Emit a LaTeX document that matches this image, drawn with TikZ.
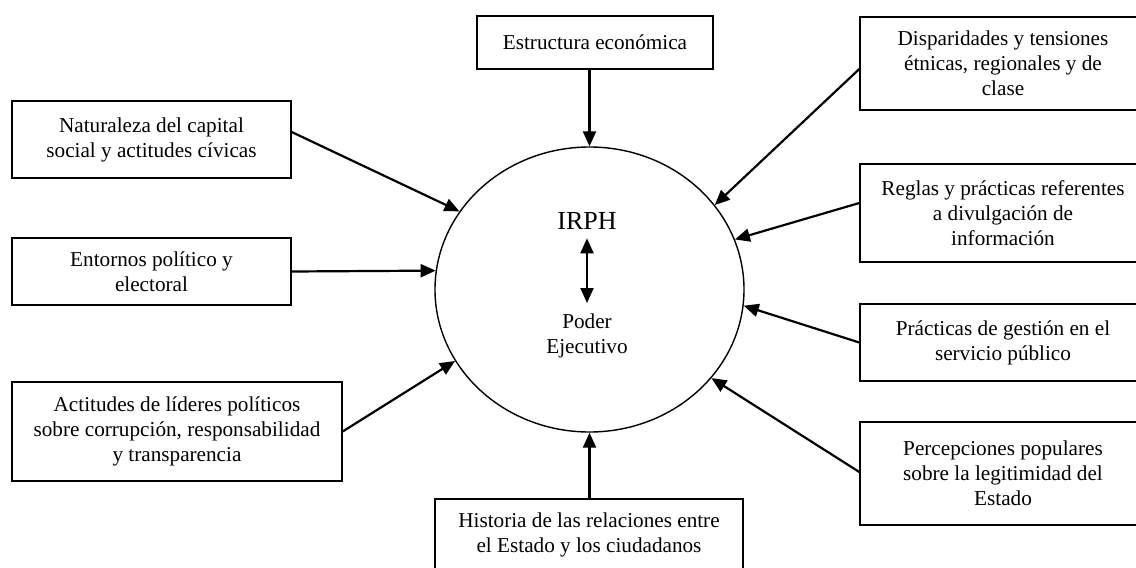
\documentclass[tikz,border=0pt]{standalone}
\usepackage{fontspec}
\setmainfont{Liberation Serif}
\usetikzlibrary{arrows.meta,shapes.geometric}
\begin{document}
\begin{tikzpicture}[x=0.5pt,y=-0.5pt,
  box/.style={draw, line width=0.7pt, align=center, inner sep=0pt, font=\fontsize{10.6}{12.5}\selectfont},
  txt/.style={inner sep=0pt, align=center, font=\fontsize{10.6}{12.5}\selectfont},
  arr/.style={line width=1.1pt, -{Triangle[length=7.5pt,width=6.5pt]}},
  dbl/.style={line width=1.1pt, {Triangle[length=7.5pt,width=6.5pt]}-{Triangle[length=7.5pt,width=6.5pt]}}]
\useasboundingbox (0,0) rectangle (1136,568);
\clip (0,0) rectangle (1136,568);
% central ellipse
\node[draw, ellipse, line width=0.7pt, inner sep=0pt, minimum width=154.5pt, minimum height=142.5pt] (c) at (589.5,289.5) {};
\node[inner sep=0pt, font=\fontsize{13}{15}\selectfont] (irph) at (587,221) {IRPH};
\node[txt, anchor=north] (poder) at (587,313) {Poder\\Ejecutivo};
\draw[dbl] ([yshift=-4.2pt]irph.south) -- ([yshift=5pt]poder.north);
% boxes
\node[box, minimum width=118pt, minimum height=26.5pt] (eco) at (595,42.5) {Estructura económica};
\node[box, minimum width=139.5pt, minimum height=38.5pt] (nat) at (151.5,139.5) {Naturaleza del capital\\social y actitudes cívicas};
\node[box, minimum width=139.5pt, minimum height=33.5pt] (ent) at (151.5,271.5) {Entornos político y\\electoral};
\node[box, minimum width=165pt, minimum height=49.5pt] (act) at (177,431.5) {Actitudes de líderes políticos\\sobre corrupción, responsabilidad\\y transparencia};
\node[box, minimum width=143pt, minimum height=46.5pt] (dis) at (1003,63.5) {Disparidades y tensiones\\étnicas, regionales y de\\clase};
\node[box, minimum width=143pt, minimum height=49pt] (reg) at (1003,213) {Reglas y prácticas referentes\\a divulgación de\\información};
\node[box, minimum width=143pt, minimum height=38.5pt] (pra) at (1003,342.5) {Prácticas de gestión en el\\servicio público};
\node[box, minimum width=143pt, minimum height=51.5pt] (per) at (1003,473.5) {Percepciones populares\\sobre la legitimidad del\\Estado};
\node[box, minimum width=154pt, minimum height=36pt] (his) at (589,535) {Historia de las relaciones entre\\el Estado y los ciudadanos};
% arrows
\draw[arr] (c.north |- eco.south) -- (c.north);
\draw[arr] (c.south |- his.north) -- (c.south);
\draw[arr] ([yshift=3.75pt]nat.east) -- (c.149.7);
\draw[arr] (ent.east) -- (c.173.2);
\draw[arr] (act.east) -- (c.208);
\draw[arr] ([yshift=-2.75pt]dis.west) -- (c.34.9);
\draw[arr] ([yshift=5pt]reg.west) -- (c.19.6);
\draw[arr] (pra.west) -- (c.-6.4);
\draw[arr] ([yshift=0.75pt]per.west) -- (c.-36.4);
\end{tikzpicture}
\end{document}
